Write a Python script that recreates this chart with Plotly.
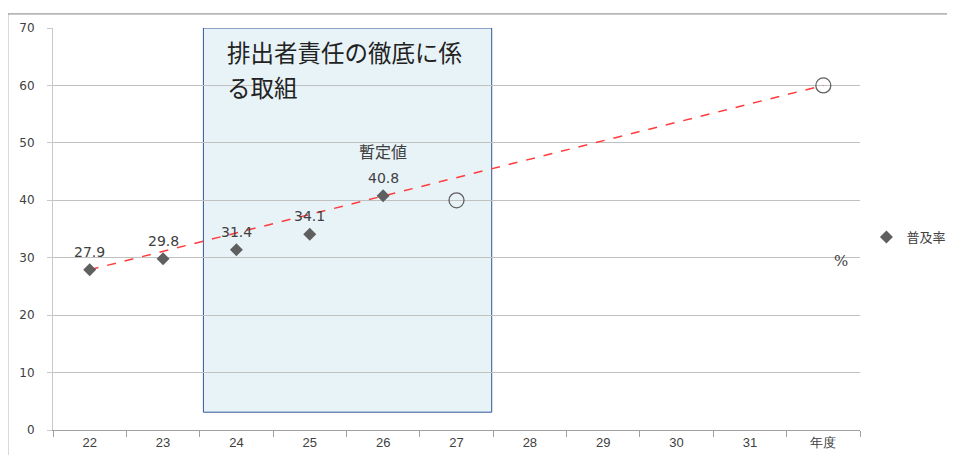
import plotly.graph_objects as go

# categories and values
years = ['22', '23', '24', '25', '26', '27', '28', '29', '30', '31', '年度']
rate_years = ['22', '23', '24', '25', '26']
rate = [27.9, 29.8, 31.4, 34.1, 40.8]
target_years = ['27', '年度']
target = [40, 60]
trend_years = ['22', '年度']
trend = [27.9, 60]

fig = go.Figure()

# trend line (red dashed)
fig.add_trace(go.Scatter(
    x=trend_years, y=trend, mode='lines',
    line=dict(color='#ff3b3b', width=1.5, dash='dash'),
    showlegend=False, hoverinfo='skip'
))

# target circles
fig.add_trace(go.Scatter(
    x=target_years, y=target, mode='markers',
    marker=dict(symbol='circle-open', size=15, color='#606060', line=dict(width=1.3)),
    showlegend=False
))

# actual rate
fig.add_trace(go.Scatter(
    x=rate_years, y=rate, mode='markers', name='普及率',
    marker=dict(symbol='diamond', size=10, color='#5f5f5f')
))

# data labels (category axis: annotations need the category index)
for xv, yv in zip(rate_years, rate):
    fig.add_annotation(x=years.index(xv), y=yv, text=str(yv), showarrow=False, yshift=18,
                       font=dict(family='DejaVu Sans', size=14, color='#404040'))

# highlight box
fig.add_shape(type='rect', xref='x', yref='y', x0=1.55, x1=5.48, y0=3.1, y1=70,
              fillcolor='rgba(220,236,245,0.65)', line=dict(color='#2f5597', width=1),
              layer='below')

# outer border
fig.add_shape(type='line', xref='paper', yref='paper', x0=-0.056, x1=1.12, y0=1.035, y1=1.035,
              line=dict(color='#808080', width=1))
fig.add_shape(type='line', xref='paper', yref='paper', x0=-0.056, x1=-0.056, y0=1.035, y1=-0.07,
              line=dict(color='#808080', width=1))

fig.add_annotation(x=0.213, y=0.94, xref='paper', yref='paper', xanchor='left', yanchor='middle',
                   text='排出者責任の徹底に係', showarrow=False,
                   font=dict(family='Noto Sans CJK JP', size=23.5, color='#222222'))
fig.add_annotation(x=0.213, y=0.853, xref='paper', yref='paper', xanchor='left', yanchor='middle',
                   text='る取組', showarrow=False,
                   font=dict(family='Noto Sans CJK JP', size=23.5, color='#222222'))
fig.add_annotation(x=years.index('26'), y=48.5, text='暫定値', showarrow=False,
                   font=dict(family='Noto Sans CJK JP', size=16, color='#404040'))
fig.add_annotation(x=0.965, y=29.5, xref='paper', yref='y', xanchor='left', text='%', showarrow=False,
                   font=dict(family='DejaVu Serif', size=15, color='#404040'))

fig.update_layout(
    width=947, height=447,
    margin=dict(l=45, r=95, t=20, b=25, autoexpand=False),
    paper_bgcolor='white', plot_bgcolor='white',
    legend=dict(x=1.008, y=0.48, xanchor='left', yanchor='middle', itemwidth=30,
                font=dict(family='Noto Sans CJK JP', size=13, color='#404040')),
    xaxis=dict(
        type='category', categoryorder='array', categoryarray=years,
        tickson='boundaries', ticks='outside', ticklen=6, tickcolor='#a0a0a0',
        showline=True, linecolor='#a0a0a0', showgrid=False, automargin=False,
        tickfont=dict(family='Liberation Sans Narrow, Liberation Sans', size=13, color='#404040'),
        range=[-0.5, 10.5]
    ),
    yaxis=dict(
        range=[0, 70], dtick=10, ticks='outside', ticklen=5, tickcolor='#c8c8c8',
        showline=True, linecolor='#c8c8c8', gridcolor='#c0c0c0', zeroline=False,
        ticklabelstandoff=10, automargin=False,
        tickfont=dict(family='DejaVu Sans', size=12, color='#404040')
    )
)

fig.write_html("out.html")
